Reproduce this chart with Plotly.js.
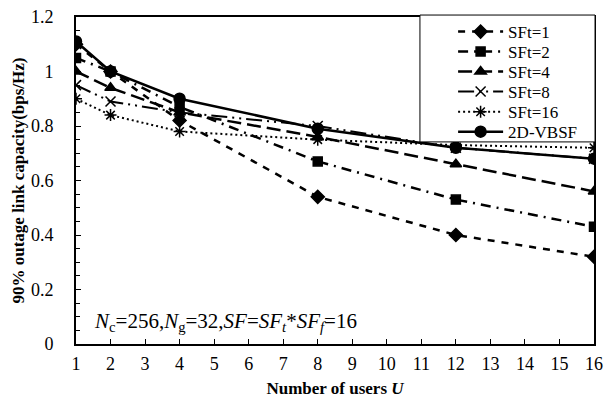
<!DOCTYPE html>
<html>
<head>
<meta charset="utf-8">
<script src="https://cdn.plot.ly/plotly-3.0.1.min.js"></script>
<style>html,body{margin:0;padding:0;background:#fff;}#chart{width:606px;height:410px;}</style>
</head>
<body>
<div id="chart"></div>
<script>
const users = [1, 2, 4, 8, 12, 16];
const sft1 = [1.10, 1.00, 0.82, 0.54, 0.40, 0.32];
const sft2 = [1.05, 1.00, 0.87, 0.67, 0.53, 0.43];
const sft4 = [1.00, 0.94, 0.85, 0.76, 0.66, 0.56];
const sft8 = [0.95, 0.89, 0.85, 0.80, 0.72, 0.68];
const sft16 = [0.90, 0.84, 0.78, 0.75, 0.73, 0.72];
const vbsf = [1.11, 1.00, 0.90, 0.79, 0.72, 0.68];
const names = ['SFt=1', 'SFt=2', 'SFt=4', 'SFt=8', 'SFt=16', '2D-VBSF'];

const F = 'Liberation Serif, Times New Roman, serif';
const legendIds = ['legend', 'legend2', 'legend3', 'legend4', 'legend5', 'legend6'];
function tr(i, y, dash, sym, size, lw) {
  return {x: users, y: y, name: names[i], type: 'scatter', mode: 'lines+markers',
    legend: legendIds[i],
    line: {color: '#000', width: lw, dash: dash},
    marker: {symbol: sym, size: size, color: '#000', line: {color: '#000', width: 1.5}}};
}
const data = [
  tr(0, sft1, '7px,7px', 'diamond', 10, 2.5),
  tr(1, sft2, '10px,6px,2px,6px', 'square', 9, 2.5),
  tr(2, sft4, '14px,6px', 'triangle-up', 10, 2.5),
  tr(3, sft8, '16px,5px,2px,5px,2px,5px', 'x-thin-open', 10, 2),
  tr(4, sft16, '2px,3px', 'asterisk-open', 10, 2),
  tr(5, vbsf, 'solid', 'circle', 11, 2.5)
];
const rowY = [0.954, 0.893, 0.832, 0.771, 0.709, 0.648];
const layout = {
  width: 606, height: 410,
  margin: {l: 76, r: 12, t: 17, b: 66},
  paper_bgcolor: '#fff', plot_bgcolor: '#fff',
  font: {family: F, size: 17, color: '#000'},
  showlegend: true,
  xaxis: {range: [1, 16], tickmode: 'linear', tick0: 1, dtick: 1,
    ticks: 'inside', ticklen: 5, tickwidth: 1, tickcolor: '#000',
    showline: true, linecolor: '#000', linewidth: 2, mirror: true,
    showgrid: false, zeroline: false, ticklabelstandoff: 2,
    tickfont: {family: F, size: 18},
    title: {text: '<b>Number of users <i>U</i></b>', font: {family: F, size: 17}, standoff: 10}},
  yaxis: {range: [0, 1.2], tickmode: 'linear', tick0: 0, dtick: 0.2,
    ticks: 'inside', ticklen: 5, tickwidth: 1, tickcolor: '#000',
    minor: {dtick: 0.05, ticks: 'inside', ticklen: 4, tickcolor: '#000', showgrid: false},
    showline: true, linecolor: '#000', linewidth: 2, mirror: true,
    showgrid: false, zeroline: false, ticklabelstandoff: 17,
    tickfont: {family: F, size: 18},
    title: {text: '<b>90% outage link capacity(bps/Hz)</b>', font: {family: F, size: 17}, standoff: 2}},
  shapes: [{type: 'rect', xref: 'paper', yref: 'paper', x0: 0.664, x1: 1.002, y0: 0.618, y1: 1.006,
    line: {color: '#000', width: 1}, fillcolor: '#fff', layer: 'above'}],
  annotations: [{
    x: 1.45, y: 0.08, xref: 'x', yref: 'y', xanchor: 'left', yanchor: 'middle', showarrow: false,
    text: '<i>N</i><sub>c</sub>=256,<i>N</i><sub>g</sub>=32,<i>SF</i>=<i>SF<sub>t</sub></i>*<i>SF<sub>f</sub></i>=16',
    font: {family: F, size: 21, color: '#000'}
  }]
};
legendIds.forEach((id, i) => {
  layout[id] = {x: 0.728, xanchor: 'left', y: rowY[i], yanchor: 'middle',
    bgcolor: 'rgba(0,0,0,0)', borderwidth: 0, itemwidth: 45,
    font: {family: F, size: 17, color: '#000'}};
});
Plotly.newPlot('chart', data, layout, {displayModeBar: false, staticPlot: true});
</script>
</body>
</html>
